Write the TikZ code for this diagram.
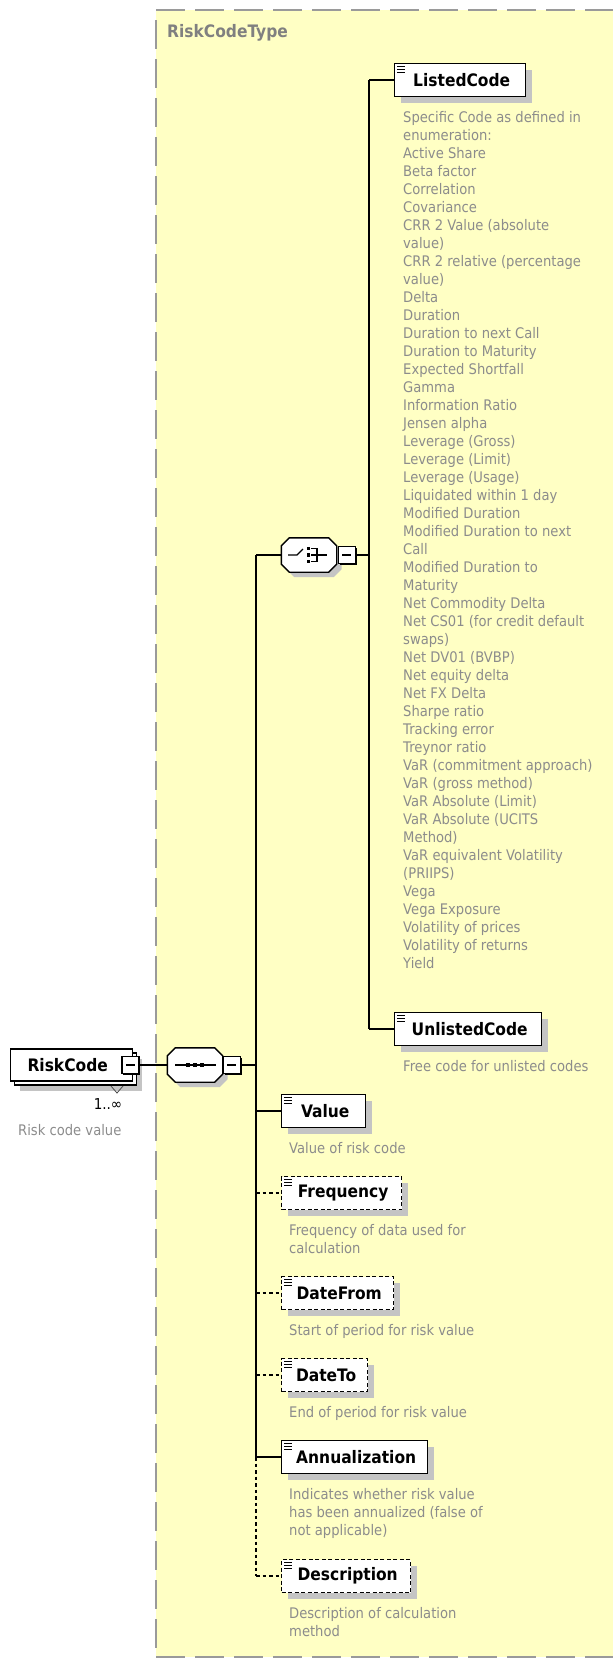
\documentclass[tikz,border=0pt]{standalone}
\usepackage{fontspec}
\setmainfont{DejaVu Sans}[FakeStretch=0.9]
\usetikzlibrary{positioning,shadows}
\definecolor{ink}{HTML}{000000}
\definecolor{typebg}{HTML}{FFFFC4}
\definecolor{frameline}{HTML}{9A9A9A}
\definecolor{typegray}{HTML}{808080}
\definecolor{notegray}{HTML}{8C8C8C}
\definecolor{shade}{HTML}{C4C4C4}
\newcommand{\notefont}{\fontsize{14.6}{18}\selectfont}
\newcommand{\namefont}{\fontsize{17.2}{20}\selectfont\bfseries}

\begin{document}
\begin{tikzpicture}[x=1pt,y=-1pt,
  elem/.style={draw=ink,fill=white,line width=1.4pt,anchor=west,minimum height=33pt,
               inner sep=0pt,font=\namefont,
               drop shadow={shadow xshift=6pt,shadow yshift=-6pt,fill=shade,opacity=1},
               execute at begin node=\hspace*{3pt}},
  optelem/.style={elem,dash pattern=on 4pt off 2.5pt},
  rootelem/.style={draw=ink,fill=white,line width=1.4pt,anchor=west,minimum height=32pt,
               minimum width=122pt,inner sep=0pt,font=\namefont,
               general shadow={fill=shade,shadow xshift=9pt,shadow yshift=-10pt},
               general shadow={fill=white,draw=ink,line width=1.2pt,
                               shadow xshift=4pt,shadow yshift=-4pt}},
  compo/.style={minimum width=55pt,minimum height=34pt,inner sep=0pt},
  compoframe/.style={draw=ink,fill=white,line width=1.4pt,
               drop shadow={shadow xshift=5pt,shadow yshift=-5pt,fill=shade,opacity=1}},
  minus/.style={draw=ink,fill=white,line width=1.2pt,minimum width=17pt,
               minimum height=17pt,inner sep=0pt,
               drop shadow={shadow xshift=1.5pt,shadow yshift=-1.5pt,fill=ink,opacity=1}},
  note/.style={font=\notefont,text=notegray,align=left,inner sep=0pt},
  wire/.style={line width=1.3pt,draw=ink},
  optwire/.style={wire,dash pattern=on 3.5pt off 3pt}]

\useasboundingbox (0,0) rectangle (613,1658);

% complex type frame
\fill[typebg] (156,10) rectangle (613,1657);
\draw[frameline,line width=2.5pt,dash pattern=on 29pt off 10pt] (156,10) -- (613,10);
\draw[frameline,line width=2.5pt,dash pattern=on 29pt off 10pt] (156,20) -- (156,1657);
\draw[frameline,line width=2.5pt,dash pattern=on 29pt off 10pt] (156,1657) -- (613,1657);
\node[font=\namefont,text=typegray,anchor=west,inner sep=0pt] (typename) at (167,33) {RiskCodeType};

% root element
\node[rootelem] (root) at (10,1065) {RiskCode\hspace*{8pt}};
\node[minus,xshift=-3pt] (rootmin) at (root.east) {\rule{9pt}{1.4pt}};
\draw[line width=0.8pt,ink!70] (111,1086) -- (117,1093) -- (123,1086);
\node[font=\fontsize{15}{18}\selectfont,text=ink,anchor=north east,inner sep=0pt,
      below left=17pt and 11pt of root.south east] (rootmult) {1..∞};
\node[note,anchor=north west,below right=42pt and 8pt of root.south west] (rootnote) {Risk code value};

% compositors
\node[compo] (seq) at (195,1065) {};
\node[compo] (choice) at (309,555) {};
\foreach \c in {seq,choice}
  \draw[compoframe] ([xshift=8pt]\c.north west) -- ([xshift=-8pt]\c.north east)
    -- ([yshift=-8pt]\c.north east) -- ([yshift=8pt]\c.south east)
    -- ([xshift=-8pt]\c.south east) -- ([xshift=8pt]\c.south west)
    -- ([yshift=8pt]\c.south west) -- ([yshift=-8pt]\c.north west) -- cycle;

\node[minus,right=0pt of seq] (seqmin) {\rule{9pt}{1.4pt}};
\coordinate (bus) at (256,1065);
\draw[line width=1.3pt] ([xshift=-20pt]seq.center) -- ([xshift=21pt]seq.center);
\foreach \dx in {-7,0,7}
  \fill ([xshift=\dx pt]seq.center) ++(-2,-2) rectangle ++(4,4);

\node[minus,right=1pt of choice] (choicemin) {\rule{9pt}{1.4pt}};
\coordinate (chbus) at (369,555);
\begin{scope}[shift={(choice.center)},line width=1.2pt]
  \draw (-21,0) -- (-12,0) -- (-6,-6);
  \foreach \dy in {-6.5,0,6.5}
    \fill (-2.3,\dy-1.8) rectangle (1.2,\dy+1.8);
  \draw (2,-6.5) -- (8,-6.5) -- (8,6.5) -- (2,6.5);
  \draw (2,0) -- (18,0);
\end{scope}

% child elements
\node[elem,minimum width=131pt] (listed) at (394,80) {ListedCode};
\node[elem,minimum width=147pt] (unlisted) at (394,1029) {UnlistedCode};
\node[elem,minimum width=84pt] (value) at (281,1111) {Value};
\node[optelem,minimum width=120pt] (freq) at (281,1193) {Frequency};
\node[optelem,minimum width=112pt] (datefrom) at (281,1293) {DateFrom};
\node[optelem,minimum width=86pt] (dateto) at (281,1375) {DateTo};
\node[elem,minimum width=146pt] (annual) at (281,1457) {Annualization};
\node[optelem,minimum width=129pt] (descr) at (281,1576) {Description};

\foreach \el in {listed,unlisted,value,freq,datefrom,dateto,annual,descr}
  \foreach \dy in {3.5,6.5,9.5}
    \draw[line width=1.1pt] ([xshift=3pt,yshift=-\dy pt]\el.north west) -- ++(8,0);

% annotations
\node[note,anchor=north west,below right=14pt and 9pt of listed.south west] (listednote)
  {Specific Code as defined in\\enumeration:\\Active Share\\Beta factor\\Correlation\\
   Covariance\\CRR 2 Value (absolute\\value)\\CRR 2 relative (percentage\\value)\\
   Delta\\Duration\\Duration to next Call\\Duration to Maturity\\Expected Shortfall\\
   Gamma\\Information Ratio\\Jensen alpha\\Leverage (Gross)\\Leverage (Limit)\\
   Leverage (Usage)\\Liquidated within 1 day\\Modified Duration\\
   Modified Duration to next\\Call\\Modified Duration to\\Maturity\\
   Net Commodity Delta\\Net CS01 (for credit default\\swaps)\\Net DV01 (BVBP)\\
   Net equity delta\\Net FX Delta\\Sharpe ratio\\Tracking error\\Treynor ratio\\
   VaR (commitment approach)\\VaR (gross method)\\VaR Absolute (Limit)\\
   VaR Absolute (UCITS\\Method)\\VaR equivalent Volatility\\(PRIIPS)\\Vega\\
   Vega Exposure\\Volatility of prices\\Volatility of returns\\Yield};
\node[note,anchor=north west,below right=14pt and 9pt of unlisted.south west] (unlistednote)
  {Free code for unlisted codes};
\node[note,anchor=north west,below right=14pt and 8pt of value.south west] (valuenote)
  {Value of risk code};
\node[note,anchor=north west,below right=14pt and 8pt of freq.south west] (freqnote)
  {Frequency of data used for\\calculation};
\node[note,anchor=north west,below right=14pt and 8pt of datefrom.south west] (datefromnote)
  {Start of period for risk value};
\node[note,anchor=north west,below right=14pt and 8pt of dateto.south west] (datetonote)
  {End of period for risk value};
\node[note,anchor=north west,below right=14pt and 8pt of annual.south west] (annualnote)
  {Indicates whether risk value\\has been annualized (false of\\not applicable)};
\node[note,anchor=north west,below right=14pt and 8pt of descr.south west] (descrnote)
  {Description of calculation\\method};

% connectors
\draw[wire] (rootmin.east) -- (seq.west);
\draw[wire] (seqmin.east) -- (bus);
\draw[wire] (bus |- choice.west) -- (bus |- annual.west);
\draw[optwire] (bus |- annual.west) -- (bus |- descr.west);
\draw[wire] (bus |- choice.west) -- (choice.west);
\draw[wire] (bus |- value.west) -- (value.west);
\draw[optwire] (bus |- freq.west) -- (freq.west);
\draw[optwire] (bus |- datefrom.west) -- (datefrom.west);
\draw[optwire] (bus |- dateto.west) -- (dateto.west);
\draw[wire] (bus |- annual.west) -- (annual.west);
\draw[optwire] (bus |- descr.west) -- (descr.west);
\draw[wire] (choicemin.east) -- (chbus);
\draw[wire] (chbus |- listed.west) -- (chbus |- unlisted.west);
\draw[wire] (chbus |- listed.west) -- (listed.west);
\draw[wire] (chbus |- unlisted.west) -- (unlisted.west);
\end{tikzpicture}
\end{document}
